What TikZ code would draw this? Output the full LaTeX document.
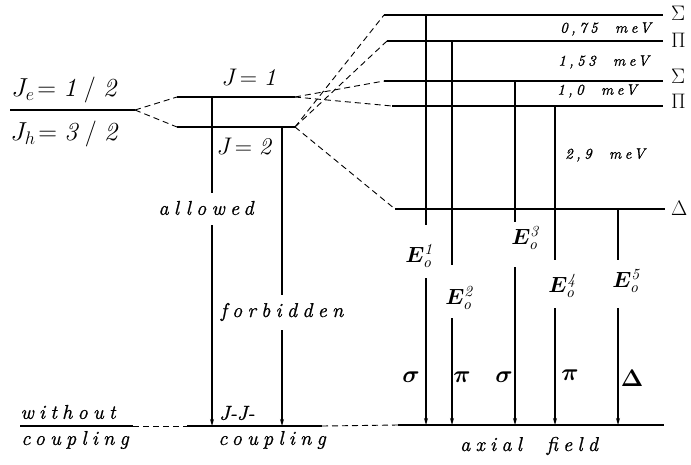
\RequirePackage{fix-cm}
\documentclass[tikz,border=0pt]{standalone}
\usepackage{amsmath,bm}
\usepackage{fontspec}
\setmainfont{lmroman10}[Extension=.otf, UprightFont=*-regular, ItalicFont=*-italic, BoldFont=*-bold, BoldItalicFont=*-bolditalic]
\usetikzlibrary{arrows.meta}
\newcommand\spit[3][26]{{\fontsize{#2}{#2}\selectfont\itshape\addfontfeatures{LetterSpace=#1,FakeBold=0.8}#3}}
\begin{document}
\begin{tikzpicture}[x=1pt,y=-1pt,
  lvl/.style={line width=2.6pt},
  conn/.style={dash pattern=on 6pt off 4pt, line width=0.9pt},
  tr/.style={line width=1.1pt},
  tra/.style={line width=1.1pt,-{Stealth[length=7pt,width=4pt]}},
  txt/.style={inner sep=0pt},
  big/.style={inner sep=0pt,font=\fontsize{26}{28}\selectfont},
  mid/.style={inner sep=0pt,font=\fontsize{24}{26}\selectfont},
  sym/.style={inner sep=0pt,font=\fontsize{21}{23}\selectfont},
  enl/.style={inner sep=0pt,font=\fontsize{22}{24}\selectfont},
  grk/.style={inner sep=0pt,font=\fontsize{24}{26}\selectfont},
]
\useasboundingbox (0,0) rectangle (691,464);
% level end points
\coordinate (L0a) at (10,110);  \coordinate (L0b) at (135,110);
\coordinate (J1a) at (177,97);  \coordinate (J1b) at (295,97);
\coordinate (J2a) at (177,127); \coordinate (J2b) at (295,127);
\coordinate (S1a) at (384,15);  \coordinate (S1b) at (663,15);
\coordinate (P1a) at (387,41);  \coordinate (P1b) at (663,41);
\coordinate (S2a) at (384,81);  \coordinate (S2b) at (663,81);
\coordinate (P2a) at (392,106); \coordinate (P2b) at (663,106);
\coordinate (Da)  at (395,209); \coordinate (Db)  at (665,209);
\coordinate (B1a) at (20,426);  \coordinate (B1b) at (133,426);
\coordinate (B2a) at (187,426); \coordinate (B2b) at (322,426);
\coordinate (B3a) at (398,425); \coordinate (B3b) at (664,425);
% levels
\foreach \n in {L0,J1,J2,S1,P1,S2,P2,D,B1,B2,B3}
  \draw[lvl] (\n a) -- (\n b);
% dashed correlations
\draw[conn] (L0b) -- (J1a);
\draw[conn] (L0b) -- (J2a);
\draw[conn] (J1b) -- (S2a);
\draw[conn] (J1b) -- (P2a);
\draw[conn] (J2b) -- (S1a);
\draw[conn] (J2b) -- (P1a);
\draw[conn] (J2b) -- (Da);
\draw[conn] (B1b) -- (B2a);
\draw[conn] (B2b) -- (B3a);
% level labels
\node[big] (je) at (64,90) {$J_e\!=\mathit{1\;/\;2}$};
\node[big] (jh) at (64,134) {$J_h\!=\mathit{3\;/\;2}$};
\node[mid] (j1) at (249,77) {$J\!=\mathit{1}$};
\node[mid] (j2) at (244,147) {$J\!=\mathit{2}$};
\node[sym,anchor=west] (s1) at (671,13) {$\Sigma$};
\node[sym,anchor=west] (p1) at (671,40) {$\Pi$};
\node[sym,anchor=west] (s2) at (671,76) {$\Sigma$};
\node[sym,anchor=west] (p2) at (671,101) {$\Pi$};
\node[sym,anchor=west] (dd) at (671,208) {$\Delta$};
% splittings
\node[txt,anchor=east] (e075) at (651,29) {\spit[22]{15}{0,75 \ meV}};
\node[txt,anchor=east] (e153) at (649,62) {\spit[22]{15}{1,53 \ meV}};
\node[txt] (e10) at (597,91) {\spit[22]{15}{1,0 \ meV}};
\node[txt] (e29) at (605,155) {\spit[22]{15}{2,9 \ meV}};
% left transitions
\node[txt] (allowed) at (206,208) {\spit{20}{allowed}};
\node[txt] (forb) at (282,312) {\spit{20}{forbidden}};
\coordinate (a1) at (212,97);  \coordinate (a2) at (212,193);
\coordinate (a3) at (212,225); \coordinate (a4) at (212,426);
\coordinate (f1) at (282,127); \coordinate (f2) at (282,295);
\coordinate (f3) at (282,330); \coordinate (f4) at (282,426);
\draw[tr] (a1) -- (a2);
\draw[tra] (a3) -- (a4);
\draw[tr] (f1) -- (f2);
\draw[tra] (f3) -- (f4);
% right transitions
\node[enl] (E1) at (419,256) {$\bm{E}^{\mathit{1}}_{\mathit{o}}$};
\node[enl] (E2) at (459,298) {$\bm{E}^{\mathit{2}}_{\mathit{o}}$};
\node[enl] (E3) at (525,238) {$\bm{E}^{\mathit{3}}_{\mathit{o}}$};
\node[enl] (E4) at (562,286) {$\bm{E}^{\mathit{4}}_{\mathit{o}}$};
\node[enl] (E5) at (626,281) {$\bm{E}^{\mathit{5}}_{\mathit{o}}$};
\foreach \x/\t/\g/\h in {426/15/225/278, 452/41/265/318, 515/81/222/267, 555/106/260/308, 618/209/260/308}{
  \draw[tr] (\x,\t) -- (\x,\g);
  \draw[tra] (\x,\h) -- (\x,425);
}
\node[grk] (g1) at (411,377) {$\bm{\sigma}$};
\node[grk] (g2) at (462,377) {$\bm{\pi}$};
\node[grk] (g3) at (504,377) {$\bm{\sigma}$};
\node[grk] (g4) at (570,375) {$\bm{\pi}$};
\node[grk] (g5) at (632,378) {$\bm{\Delta}$};
% bottom labels
\node[txt] (wo) at (68,412) {\spit{20}{without}};
\node[txt] (c1) at (75,440) {\spit{20}{coupling}};
\node[txt] (jj) at (237,413) {\fontsize{20}{20}\selectfont\itshape\addfontfeatures{FakeBold=0.8}J-J-};
\node[txt] (c2) at (272,440) {\spit{20}{coupling}};
\node[txt] (ax) at (529,446) {\spit{20}{axial \ field}};
\end{tikzpicture}
\end{document}
